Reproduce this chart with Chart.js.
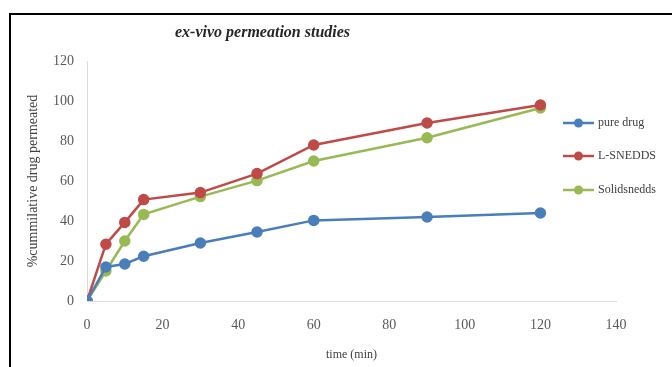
<!DOCTYPE html>
<html>
<head>
<meta charset="utf-8">
<script src="https://cdn.jsdelivr.net/npm/chart.js@4"></script>
<style>
  html, body { margin: 0; padding: 0; background: #fff; }
  #wrap { position: relative; width: 672px; height: 367px; }
  #frame { position: absolute; left: 9px; top: 13px; width: 680px; height: 380px;
           border-left: 2px solid #000; border-top: 2px solid #000; }
  canvas { position: absolute; left: 0; top: 0; }
</style>
</head>
<body>
<div id="wrap">
  <div id="frame"></div>
  <canvas id="myChart" width="672" height="367"></canvas>
</div>
<script>
  // values
  const times = [0, 5, 10, 15, 30, 45, 60, 90, 120];
  const pureDrug = [0, 17, 18.5, 22.4, 29, 34.5, 40.3, 42, 44];
  const lSnedds = [0, 28.4, 39.3, 50.7, 54.2, 63.7, 78, 89, 98];
  const solidSnedds = [0, 15, 30, 43.3, 52.2, 60.2, 70, 81.6, 96.5];
  const xTicks = [0, 20, 40, 60, 80, 100, 120, 140];
  const yTicks = [0, 20, 40, 60, 80, 100, 120];

  const COLORS = {
    blue: '#4a7ebb',
    red: '#be4b48',
    green: '#98b954'
  };
  const serif = '"Liberation Serif", "DejaVu Serif", serif';

  function toPoints(values) {
    return times.map((t, i) => ({ x: t, y: values[i] }));
  }

  function series(label, values, color) {
    return {
      label: label,
      data: toPoints(values),
      borderColor: color,
      backgroundColor: color,
      borderWidth: 2.5,
      pointRadius: 4.5,
      pointHoverRadius: 4.5,
      showLine: true,
      tension: 0
    };
  }

  // title and legend drawn at the spots they sit in the reference
  const extras = {
    id: 'extras',
    afterDraw(chart) {
      const ctx = chart.ctx;
      ctx.save();
      ctx.fillStyle = '#262626';
      ctx.font = 'italic bold 16px ' + serif;
      ctx.textAlign = 'left';
      ctx.textBaseline = 'middle';
      ctx.fillText('ex-vivo permeation studies', 175, 33);

      const rows = [123, 156, 190];
      chart.data.datasets.forEach((ds, i) => {
        const y = rows[i];
        ctx.strokeStyle = ds.borderColor;
        ctx.lineWidth = 2.5;
        ctx.beginPath();
        ctx.moveTo(563, y);
        ctx.lineTo(594, y);
        ctx.stroke();
        ctx.fillStyle = ds.borderColor;
        ctx.beginPath();
        ctx.arc(578.5, y, 4.5, 0, Math.PI * 2);
        ctx.fill();
        ctx.fillStyle = '#404040';
        ctx.font = '12px ' + serif;
        ctx.fillText(ds.label, 598, y);
      });
      ctx.restore();
    }
  };

  const config = {
    type: 'scatter',
    data: {
      datasets: [
        series('pure drug', pureDrug, COLORS.blue),
        series('L-SNEDDS', lSnedds, COLORS.red),
        series('Solidsnedds', solidSnedds, COLORS.green)
      ]
    },
    options: {
      responsive: false,
      animation: false,
      layout: { padding: { left: 15, right: 56, top: 61, bottom: 0 } },
      plugins: {
        legend: { display: false },
        title: { display: false },
        tooltip: { enabled: false }
      },
      scales: {
        x: {
          type: 'linear',
          min: 0,
          max: 140,
          afterBuildTicks: (s) => { s.ticks = xTicks.map(v => ({ value: v })); },
          afterFit: (s) => { s.height = 66; },
          grid: { display: false, drawTicks: false },
          border: { display: true, color: '#d9d9d9', width: 1 },
          ticks: { color: '#595959', font: { family: serif, size: 14 }, padding: 16 },
          title: {
            display: true,
            text: 'time (min)',
            color: '#404040',
            font: { family: serif, size: 12 },
            padding: { top: 18, bottom: 5 }
          }
        },
        y: {
          min: 0,
          max: 120,
          afterBuildTicks: (s) => { s.ticks = yTicks.map(v => ({ value: v })); },
          afterFit: (s) => { s.width = 72; },
          grid: { display: false, drawTicks: false },
          border: { display: true, color: '#d9d9d9', width: 1 },
          ticks: { color: '#595959', font: { family: serif, size: 14 }, padding: 13 },
          title: {
            display: true,
            text: '%cummilative drug permeated',
            color: '#404040',
            font: { family: serif, size: 14 },
            padding: { top: 10 }
          }
        }
      }
    },
    plugins: [extras]
  };

  window.onload = function() {
    const ctx = document.getElementById('myChart').getContext('2d');
    new Chart(ctx, config);
  };
</script>
</body>
</html>
